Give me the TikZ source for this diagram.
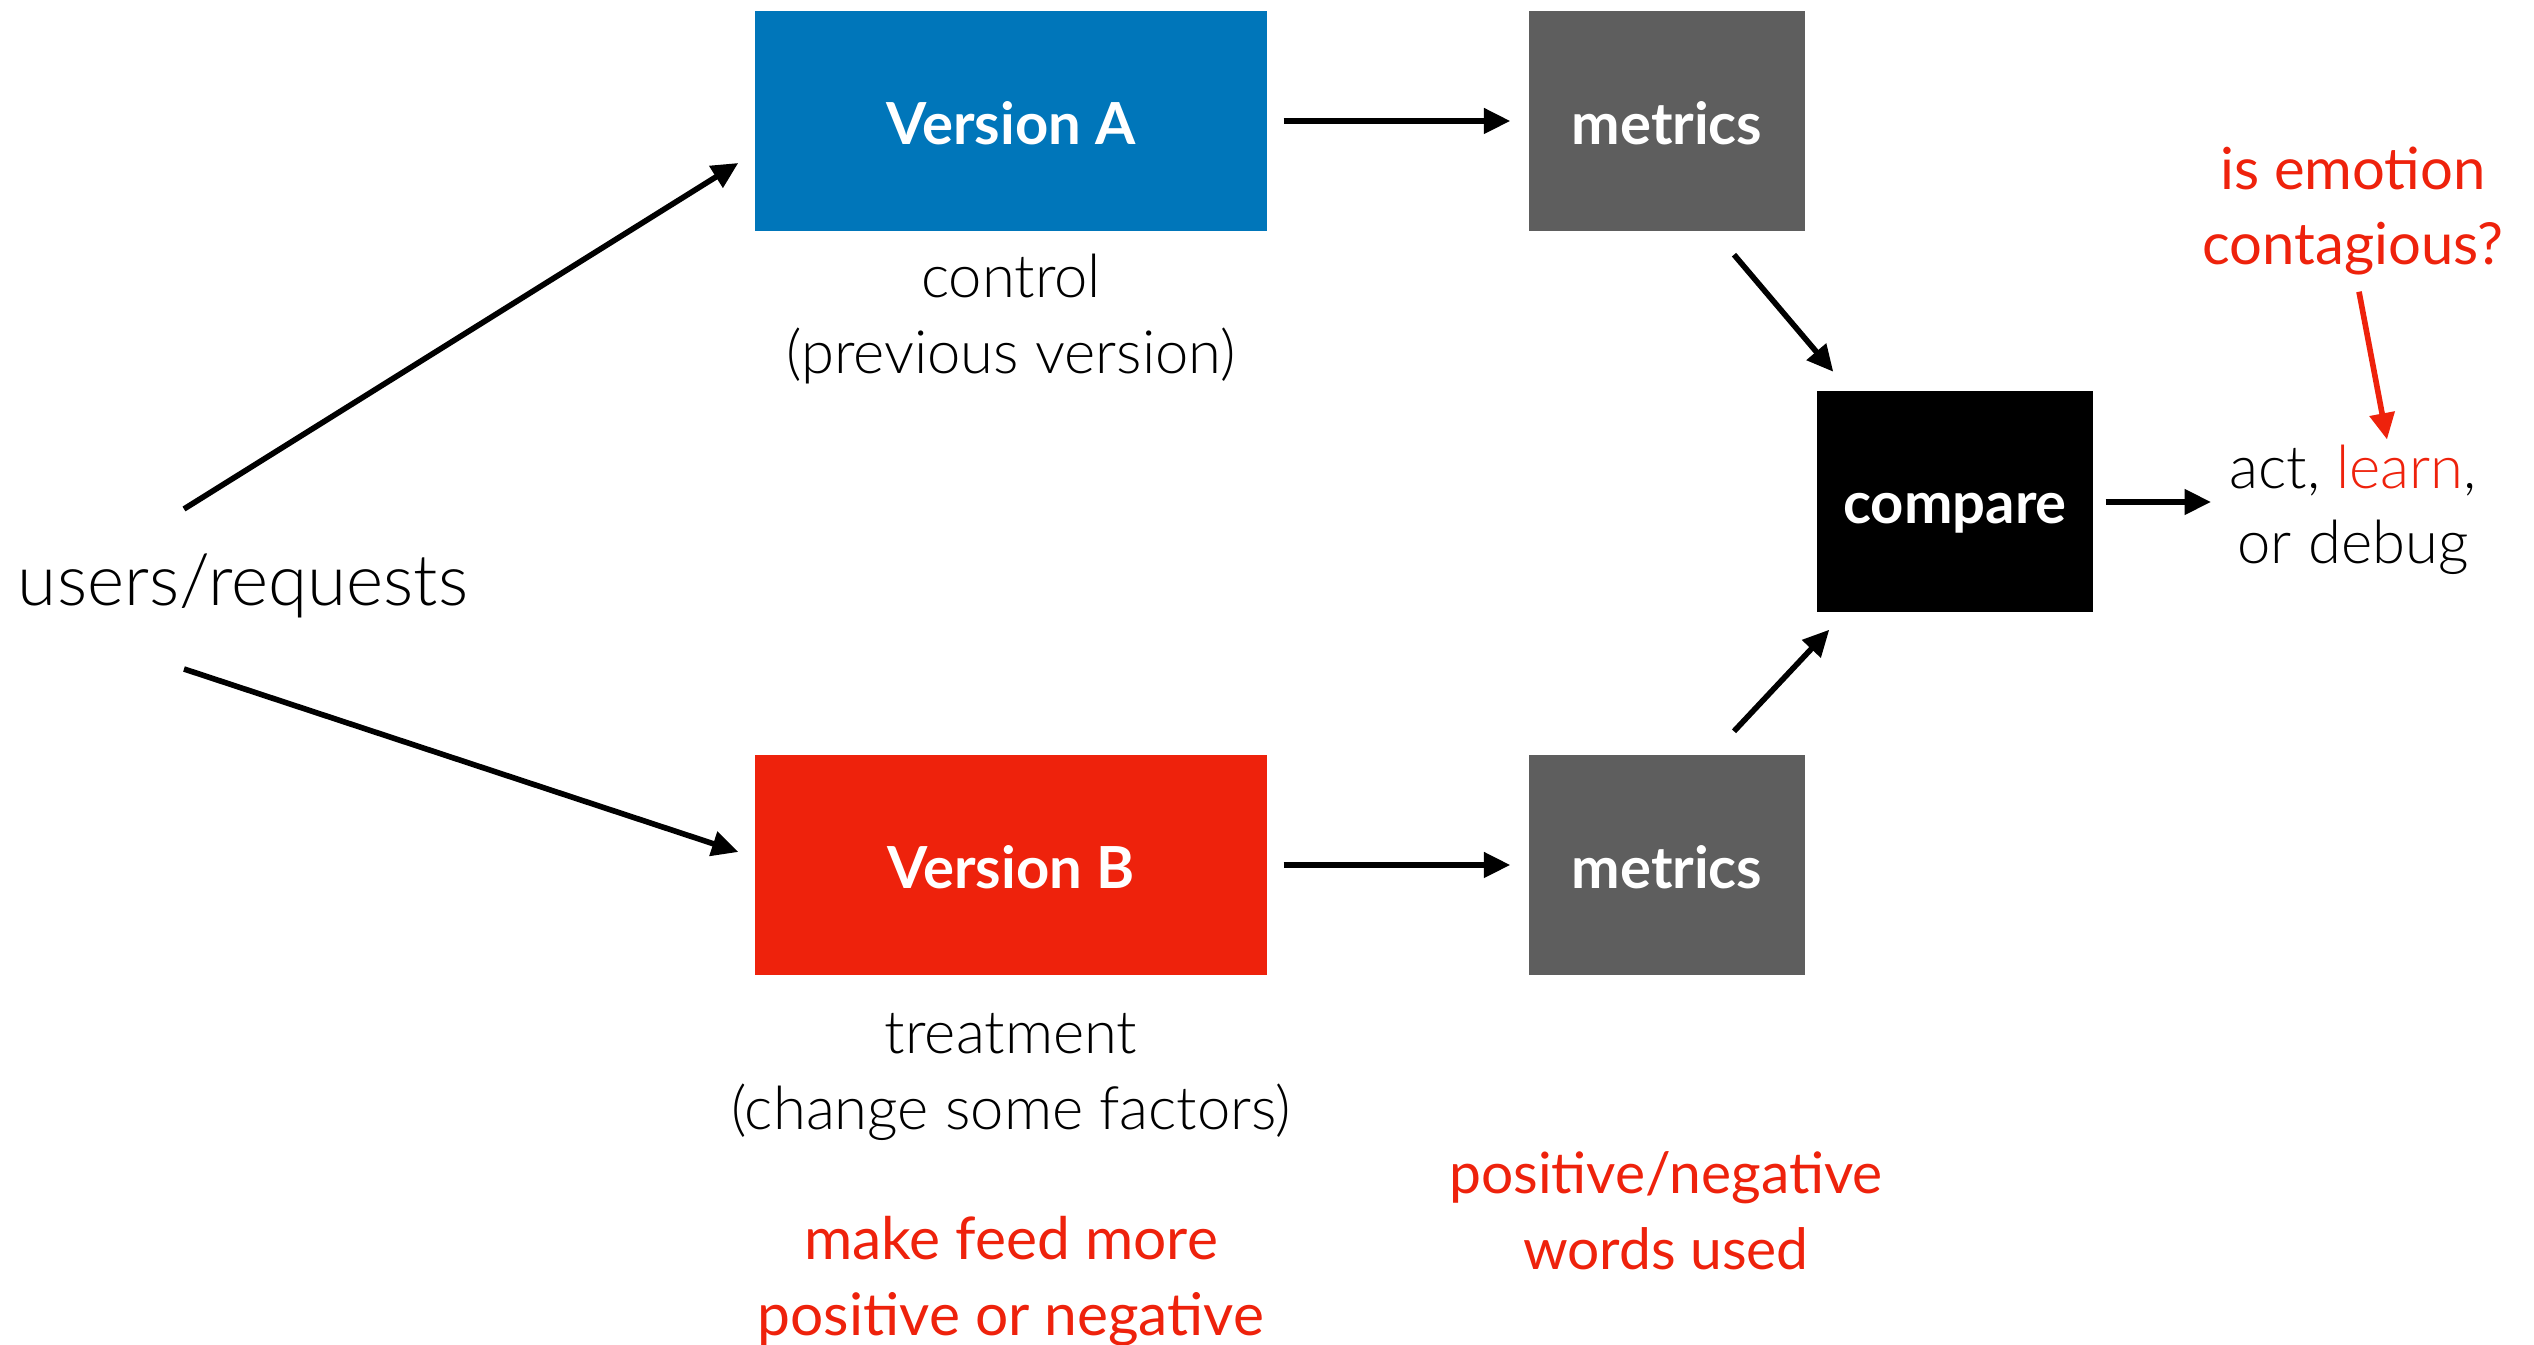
\documentclass[tikz,border=0pt]{standalone}
\usepackage{fontspec}
\setmainfont{Lato}[UprightFont={* Light}, BoldFont={* Bold}]
\newfontfamily\latoreg{Lato}
\usetikzlibrary{arrows.meta}

\begin{document}
\begin{tikzpicture}[>={Triangle[length=7.5pt,width=7pt]}]

\definecolor{abblue}{RGB}{0,118,186}
\definecolor{abred}{RGB}{238,34,12}
\definecolor{abgrey}{RGB}{94,94,94}

% Canvas
\useasboundingbox (0,0) rectangle (25.34,13.45);

\tikzset{
    ab block/.style={
        fill=#1, rectangle, inner sep=0pt,
        minimum width=5.12cm, minimum height=2.2cm,
        text height=13.5pt, text depth=0pt,
        text=white, font=\fontsize{16.5}{20}\selectfont\bfseries
    },
    small block/.style={ab block=#1, minimum width=2.76cm},
    note/.style={align=center, font=\fontsize{17}{21.5}\selectfont},
    red note/.style={note, text=abred, font=\fontsize{16.5}{21.5}\selectfont\latoreg},
    flow/.style={->, draw=black, line width=1.6pt}
}

% VERSIONS
\node[ab block=abblue] (verA) at (10.11,12.24) {Version A};
\node[ab block=abred] (verB) at (10.11,4.80) {Version B};

% METRICS + COMPARE
\node[small block=abgrey] (metA) at (16.67,12.24) {metrics};
\node[small block=abgrey] (metB) at (16.67,4.80) {metrics};
\node[small block=black, minimum height=2.21cm, text height=12.5pt] (cmp) at (19.55,8.43) {compare};

% Labels
\node[note, font=\fontsize{20.2}{24}\selectfont] (users) at (2.43,7.59) {users/requests};
\node[note] (ctrl) at (10.11,10.26) {control\\(previous version)};
\node[note] (treat) at (10.11,2.68) {treatment\\(change some factors)};
\node[note] (act) at (23.53,8.35) {act, \textcolor{abred}{learn},\\or debug};
\node[red note, font=\fontsize{16.7}{21.5}\selectfont\latoreg] (feed) at (10.11,0.64) {make feed more\\positive or negative};
\node[red note, font=\fontsize{16.2}{21.5}\selectfont\latoreg] (words) at (16.66,1.34) {positive/negative\\words used};
\node[red note] (emo) at (23.53,11.34) {is emotion\\contagious?};

% --- FLOW ---
\draw[flow] ([shift={(-0.59,0.77)}]users.center) -- ([shift={(-0.16,-0.42)}]verA.west);
\draw[flow] ([shift={(-0.59,-0.83)}]users.center) -- ([shift={(-0.16,0.13)}]verB.west);

\draw[flow, shorten <=1.6mm, shorten >=1.8mm] (verA) -- (metA);
\draw[flow, shorten <=1.6mm, shorten >=1.8mm] (verB) -- (metB);

\draw[flow] ([shift={(0.67,-0.23)}]metA.south) -- ([shift={(0.17,0.19)}]cmp.north west);
\draw[flow] ([shift={(0.67,0.23)}]metB.north) -- ([shift={(0.13,-0.165)}]cmp.south west);

\draw[flow, shorten <=1.2mm, shorten >=0.6mm] (cmp.east) -- (cmp.east -| act.west);
\draw[flow, draw=abred, fill=abred] ([shift={(0.06,-0.04)}]emo.south) -- ([shift={(0.34,-0.07)}]act.north);

\end{tikzpicture}
\end{document}
